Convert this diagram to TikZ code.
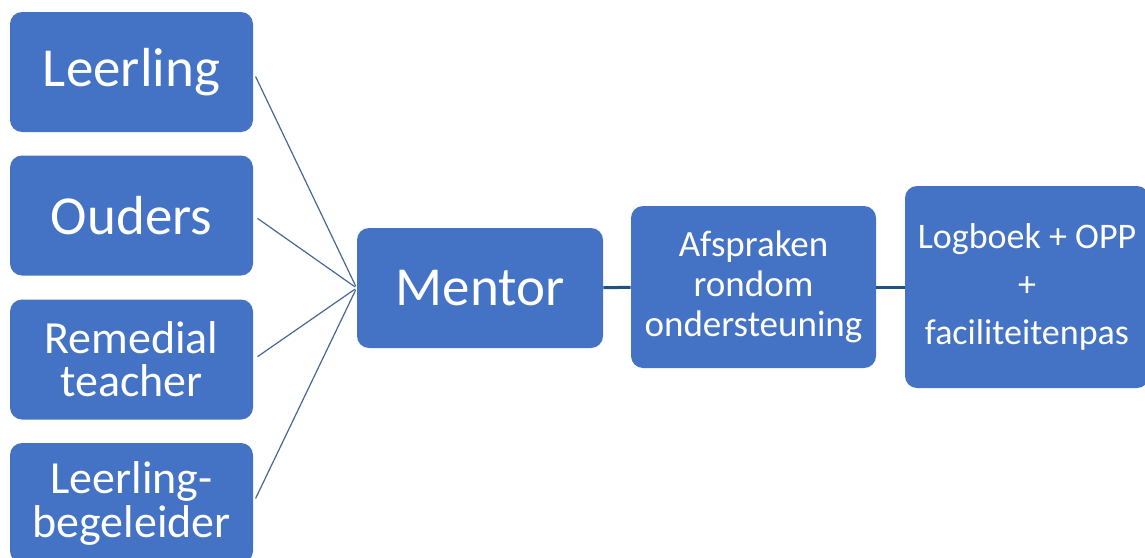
\documentclass[tikz,border=0pt]{standalone}
\usepackage{fontspec}
\setmainfont{Carlito}
\definecolor{boxblue}{RGB}{68,114,196}
\definecolor{spokegray}{RGB}{72,102,150}
\definecolor{linkblue}{RGB}{31,82,130}
\begin{document}
\begin{tikzpicture}[x=0.5pt,y=-0.5pt,
    box/.style={fill=boxblue,rounded corners=6pt,text=white,align=center,
      inner sep=0pt,minimum width=121.5pt,minimum height=60pt},
    spoke/.style={draw=spokegray,line width=0.6pt},
    link/.style={draw=linkblue,line width=1.5pt}]
  \useasboundingbox (0,0) rectangle (1145,557);
  \clip (0,0) rectangle (1145,557);
  % left column
  \node[box,font=\fontsize{27.5}{30}\selectfont] (leerling) at (131.5,72) {Leerling};
  \node[box,font=\fontsize{27.5}{30}\selectfont] (ouders) at (131.5,215.5) {Ouders};
  \node[box,font=\fontsize{23}{21.5}\selectfont] (remedial) at (131.5,359.5) {Remedial\\teacher};
  \node[box,font=\fontsize{23}{22}\selectfont] (begeleider) at (131.5,503) {Leerling-\\begeleider};
  % middle and right
  \node[box,minimum width=123pt,font=\fontsize{27.5}{30}\selectfont] (mentor) at (480,288) {Mentor};
  \node[box,minimum width=122.5pt,minimum height=81pt,font=\fontsize{18.5}{20}\selectfont] (afspraken) at (753.5,287) {Afspraken\\rondom\\ondersteuning};
  \node[box,minimum width=122pt,minimum height=101pt,font=\fontsize{18}{24}\selectfont] (logboek) at (1027,287) {Logboek + OPP\\+\\faciliteitenpas};
  \begin{scope}[shorten <=2.5pt,shorten >=1pt]
    \draw[spoke] (leerling.east) -- (mentor.west);
    \draw[spoke] (ouders.east) -- (mentor.west);
    \draw[spoke] (remedial.east) -- (mentor.west);
    \draw[spoke] (begeleider.east) -- (mentor.west);
  \end{scope}
  \draw[link] (mentor) -- (afspraken);
  \draw[link] (afspraken) -- (logboek);
\end{tikzpicture}
\end{document}
